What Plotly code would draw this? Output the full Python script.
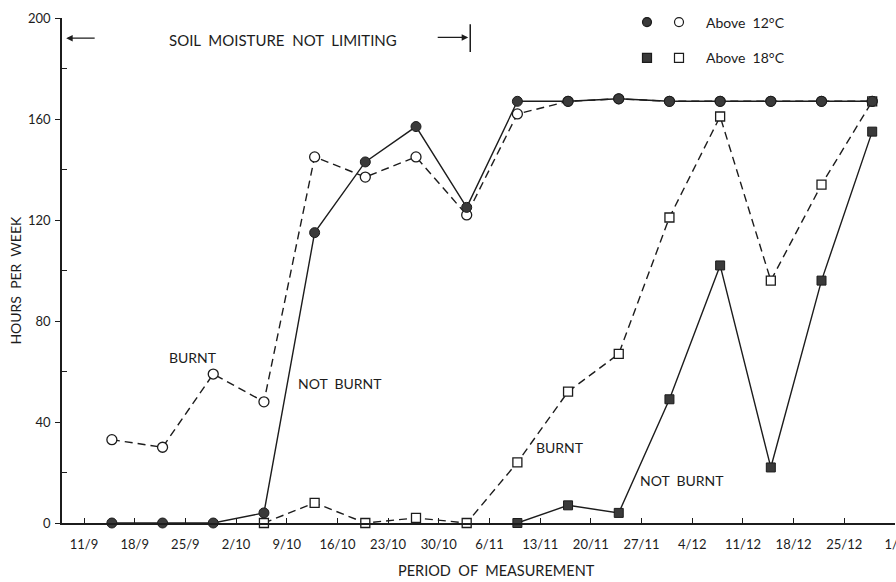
import plotly.graph_objects as go

# Week boundaries shown on the x axis (day/month)
week_labels = ["11/9", "18/9", "25/9", "2/10", "9/10", "16/10", "23/10", "30/10",
               "6/11", "13/11", "20/11", "27/11", "4/12", "11/12", "18/12", "25/12", "1/1"]

# Hours per week above 12 C (circles)
above12_not_burnt = [0, 0, 0, 4, 115, 143, 157, 125, 167, 167, 168, 167, 167, 167, 167, 167]
above12_burnt = [33, 30, 59, 48, 145, 137, 145, 122, 162, 167, 168, 167, 167, 167, 167, 167]

# Hours per week above 18 C (squares); series start at a later week
above18_burnt_start = 3
above18_burnt = [0, 8, 0, 2, 0, 24, 52, 67, 121, 161, 96, 134, 167]
above18_not_burnt_start = 8
above18_not_burnt = [0, 7, 4, 49, 102, 22, 96, 155]

# each value is plotted in the middle of its measurement week
MID = 0.55


def week_x(start, n):
    return [start + i + MID for i in range(n)]


def spaced(s):
    # widen the gaps between words
    return s.replace(" ", "\u00a0\u00a0")


INK = "#1c1c1c"
FILL = "#3a3a3a"
DASH = "8px,5px"

fig = go.Figure()

# burnt plots: dashed lines, open markers
fig.add_trace(go.Scatter(
    x=week_x(0, len(above12_burnt)), y=above12_burnt, mode="lines+markers",
    line=dict(color=INK, width=1.4, dash=DASH),
    marker=dict(symbol="circle", size=10, color="white", line=dict(color=INK, width=1.3)),
    cliponaxis=False))
fig.add_trace(go.Scatter(
    x=week_x(above18_burnt_start, len(above18_burnt)), y=above18_burnt, mode="lines+markers",
    line=dict(color=INK, width=1.4, dash=DASH),
    marker=dict(symbol="square", size=9, color="white", line=dict(color=INK, width=1.3)),
    cliponaxis=False))

# unburnt plots: solid lines, filled markers
fig.add_trace(go.Scatter(
    x=week_x(above18_not_burnt_start, len(above18_not_burnt)), y=above18_not_burnt,
    mode="lines+markers",
    line=dict(color=INK, width=1.4),
    marker=dict(symbol="square", size=9, color=FILL, line=dict(color=INK, width=1)),
    cliponaxis=False))
fig.add_trace(go.Scatter(
    x=week_x(0, len(above12_not_burnt)), y=above12_not_burnt, mode="lines+markers",
    line=dict(color=INK, width=1.4),
    marker=dict(symbol="circle", size=10, color=FILL, line=dict(color=INK, width=1)),
    cliponaxis=False))

FONT = "Lato, 'Open Sans', sans-serif"

fig.update_layout(
    width=896, height=582,
    margin=dict(l=62, r=1, t=18, b=59, autoexpand=False),
    plot_bgcolor="white", paper_bgcolor="white",
    showlegend=False,
    font=dict(family=FONT, color=INK, size=12),
    xaxis=dict(
        range=[-0.434, 16], tickmode="array",
        tickvals=list(range(len(week_labels))), ticktext=week_labels,
        ticks="inside", ticklen=5, tickwidth=1.2, tickcolor=INK,
        showline=True, linecolor=INK, linewidth=1.6,
        showgrid=False, zeroline=False,
        automargin=False, ticklabeloverflow="allow",
        tickfont=dict(size=13), ticklabelstandoff=9),
    yaxis=dict(
        range=[0, 200], tickmode="array", tickvals=[0, 40, 80, 120, 160, 200],
        ticks="outside", ticklen=5, tickwidth=1.2, tickcolor=INK,
        minor=dict(tickvals=[20, 60, 100, 140, 180], ticks="inside", ticklen=5,
                   tickwidth=1.2, tickcolor=INK),
        showline=True, linecolor=INK, linewidth=1.6,
        showgrid=False, zeroline=False, automargin=False,
        tickfont=dict(size=13), ticklabelstandoff=2),
)

LABEL_FONT = dict(size=14)
annotations = [
    # axis titles
    dict(text=spaced("PERIOD OF MEASUREMENT"), xref="paper", yref="paper", x=0.522, y=-0.095,
         showarrow=False, font=dict(size=14.5), xanchor="center", yanchor="middle"),
    dict(text=spaced("HOURS PER WEEK"), xref="paper", yref="paper", x=0, xshift=-46, y=0.48,
         textangle=-90, showarrow=False, font=dict(size=14),
         xanchor="center", yanchor="middle"),
    # header
    dict(text=spaced("SOIL MOISTURE NOT LIMITING"), xref="paper", yref="paper", x=0.265,
         y=0.956, showarrow=False, font=dict(size=15), xanchor="center", yanchor="middle"),
    # series labels
    dict(text="BURNT", x=2.15, y=65.7, showarrow=False, font=LABEL_FONT),
    dict(text=spaced("NOT BURNT"), x=5.05, y=55.4, showarrow=False, font=LABEL_FONT),
    dict(text="BURNT", x=9.39, y=30.1, showarrow=False, font=LABEL_FONT),
    dict(text=spaced("NOT BURNT"), x=11.8, y=17.0, showarrow=False, font=LABEL_FONT),
    # key text
    dict(text=spaced("Above 12°C"), xref="paper", yref="paper", x=0.771, y=0.992,
         showarrow=False, font=dict(size=14), xanchor="left", yanchor="middle"),
    dict(text=spaced("Above 18°C"), xref="paper", yref="paper", x=0.771, y=0.921,
         showarrow=False, font=dict(size=14), xanchor="left", yanchor="middle"),
    # span arrows
    dict(text="", xref="paper", yref="paper", x=0.005, y=0.960, ax=30, ay=0,
         showarrow=True, arrowhead=2, arrowsize=1, arrowwidth=1.3, arrowcolor=INK),
    dict(text="", x=7.58, y=192.3, ax=-32, ay=0,
         showarrow=True, arrowhead=2, arrowsize=1, arrowwidth=1.3, arrowcolor=INK),
]
fig.update_layout(annotations=annotations)

# end bar of the soil-moisture span, plus key symbols
shapes = [
    dict(type="line", x0=7.62, x1=7.62, y0=186.5, y1=197.5, line=dict(color=INK, width=1.5)),
]
px_x = 1 / 833.0
px_y = 1 / 505.0
key_rows = [(0.992, "circle"), (0.921, "rect")]
for yc, kind in key_rows:
    for xc, fill in [((647 - 62) * px_x, FILL), ((679 - 62) * px_x, "white")]:
        shapes.append(dict(type=kind, xref="paper", yref="paper",
                           x0=xc - 4.5 * px_x, x1=xc + 4.5 * px_x,
                           y0=yc - 4.5 * px_y, y1=yc + 4.5 * px_y,
                           fillcolor=fill, line=dict(color=INK, width=1.2)))
fig.update_layout(shapes=shapes)

fig.write_html("out.html")
